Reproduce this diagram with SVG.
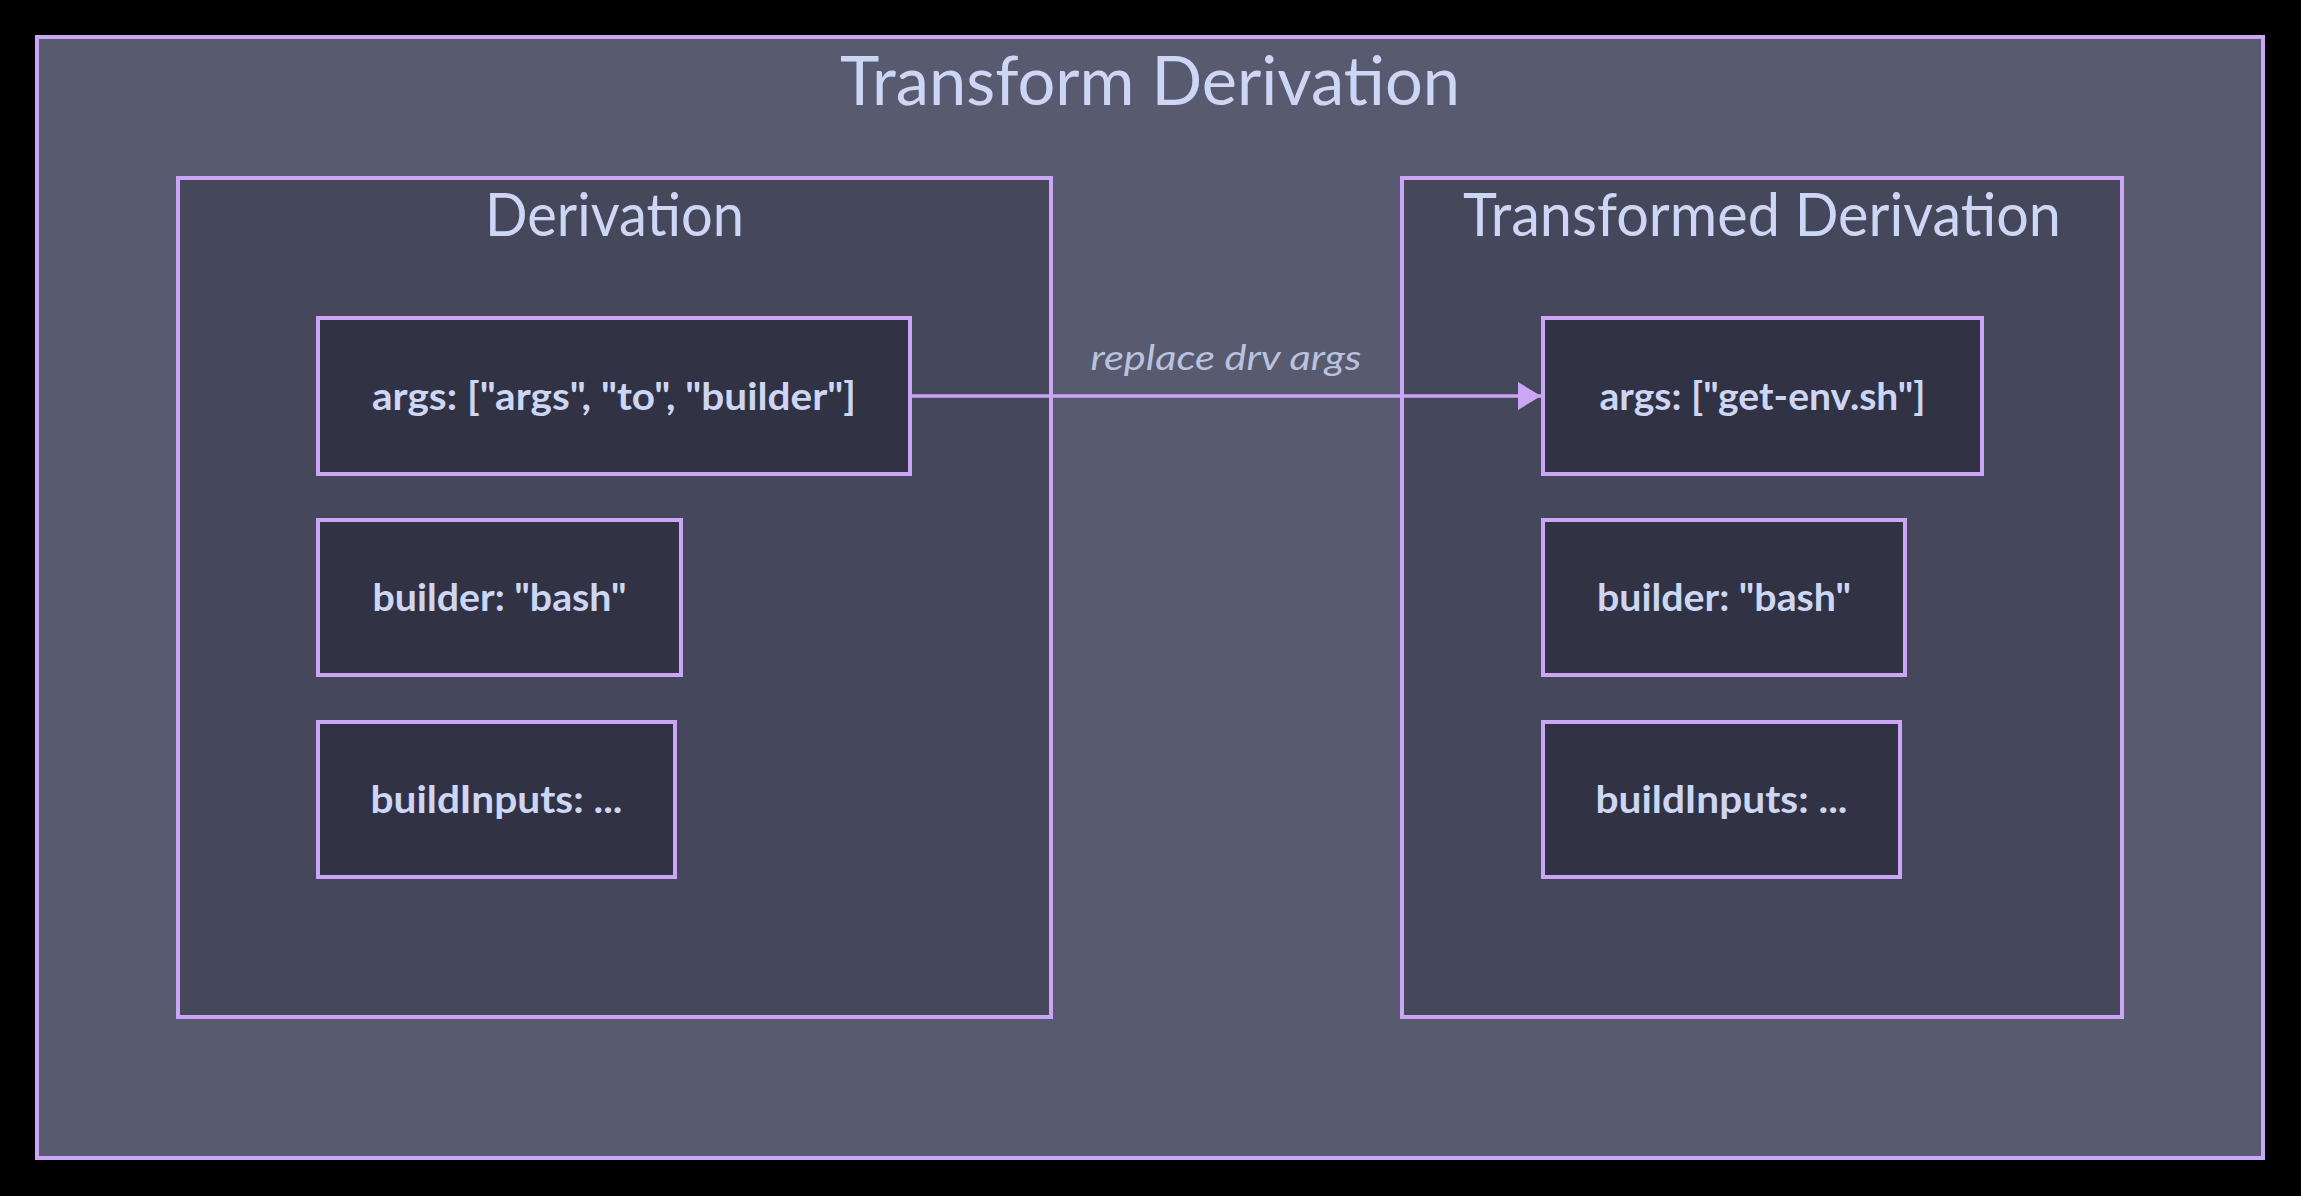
<svg xmlns="http://www.w3.org/2000/svg" width="2301" height="1196" viewBox="0 0 2301 1196">
<defs>
<style>
.outer{fill:#585b70;stroke:#cba6f7;stroke-width:4}
.cont{fill:#45475a;stroke:#cba6f7;stroke-width:4}
.node{fill:#313244;stroke:#cba6f7;stroke-width:4}
.title{font-family:Lato,"Liberation Sans",sans-serif;font-size:68px;fill:#cdd6f4;text-anchor:middle}
.clabel{font-family:Lato,"Liberation Sans",sans-serif;font-size:60px;fill:#cdd6f4;text-anchor:middle}
.nlabel{font-family:Lato,"Liberation Sans",sans-serif;font-size:38px;font-weight:bold;fill:#cdd6f4;text-anchor:middle}
.elabel{font-family:Lato,"Liberation Sans",sans-serif;font-size:35px;font-style:italic;fill:#bac2de;text-anchor:middle}
.conn{fill:none;stroke:#cba6f7;stroke-width:3.5}
</style>
<marker id="arrow" markerWidth="23" markerHeight="28" refX="23" refY="14" orient="auto" markerUnits="userSpaceOnUse">
<polygon points="0,0 23,14 0,28" fill="#cba6f7"/>
</marker>
</defs>
<rect x="0" y="0" width="2301" height="1196" fill="#000000"/>
<g id="transform-derivation">
<rect class="outer" x="37" y="37" width="2226" height="1121"/>
<text class="title" x="1150" y="105" textLength="620" lengthAdjust="spacingAndGlyphs">Transform Derivation</text>
</g>
<g id="derivation">
<rect class="cont" x="178" y="178" width="873" height="839"/>
<text class="clabel" x="614.5" y="236" textLength="259" lengthAdjust="spacingAndGlyphs">Derivation</text>
</g>
<g id="transformed-derivation">
<rect class="cont" x="1402" y="178" width="720" height="839"/>
<text class="clabel" x="1762" y="236" textLength="598" lengthAdjust="spacingAndGlyphs">Transformed Derivation</text>
</g>
<g id="derivation-args">
<rect class="node" x="318" y="318" width="592" height="156"/>
<text class="nlabel" x="614" y="410" textLength="484" lengthAdjust="spacingAndGlyphs">args: ["args", "to", "builder"]</text>
</g>
<g id="derivation-builder">
<rect class="node" x="318" y="520" width="363" height="155"/>
<text class="nlabel" x="499.5" y="611" textLength="254" lengthAdjust="spacingAndGlyphs">builder: "bash"</text>
</g>
<g id="derivation-buildInputs">
<rect class="node" x="318" y="722" width="357" height="155"/>
<text class="nlabel" x="496.5" y="813" textLength="252" lengthAdjust="spacingAndGlyphs">buildInputs: ...</text>
</g>
<g id="transformed-args">
<rect class="node" x="1543" y="318" width="439" height="156"/>
<text class="nlabel" x="1762.5" y="410" textLength="326" lengthAdjust="spacingAndGlyphs">args: ["get-env.sh"]</text>
</g>
<g id="transformed-builder">
<rect class="node" x="1543" y="520" width="362" height="155"/>
<text class="nlabel" x="1724" y="611" textLength="254" lengthAdjust="spacingAndGlyphs">builder: "bash"</text>
</g>
<g id="transformed-buildInputs">
<rect class="node" x="1543" y="722" width="357" height="155"/>
<text class="nlabel" x="1721.5" y="813" textLength="252" lengthAdjust="spacingAndGlyphs">buildInputs: ...</text>
</g>
<g id="connectors">
<path class="conn" d="M 911 396 L 1541 396" marker-end="url(#arrow)"/>
<text class="elabel" x="1226" y="370" textLength="271" lengthAdjust="spacingAndGlyphs">replace drv args</text>
</g>
</svg>
